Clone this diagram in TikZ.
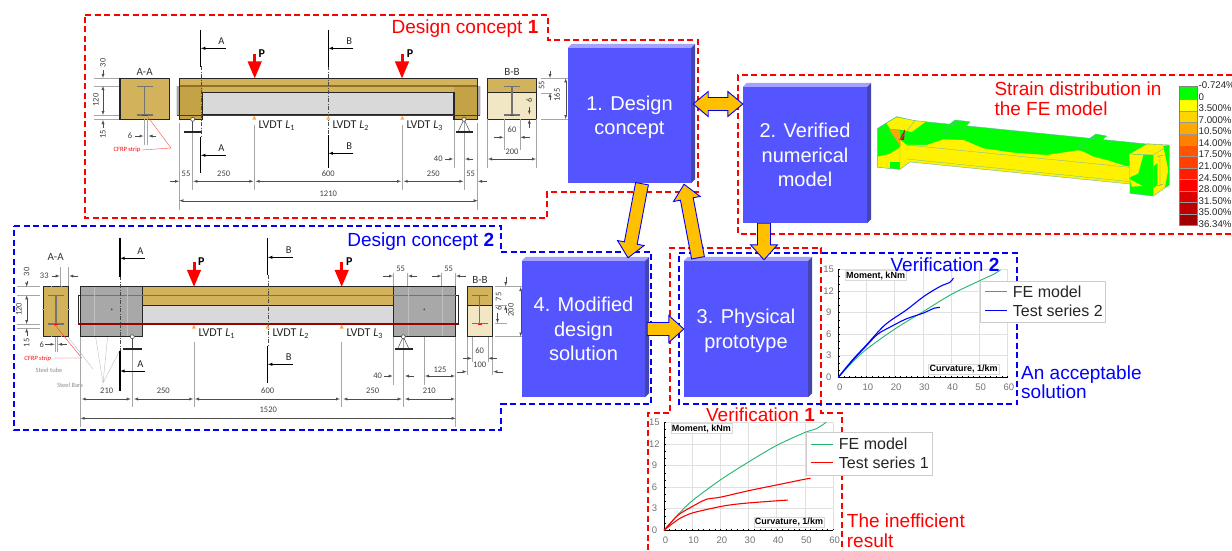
\documentclass[tikz,border=0pt]{standalone}
\usepackage{fontspec}
\setmainfont{Liberation Sans}
\newfontfamily\carl{Carlito}
\usetikzlibrary{arrows,calc}
\definecolor{beamgold}{HTML}{D2B25A}
\definecolor{beamband}{HTML}{8F7226}
\definecolor{beamend}{HTML}{C4A346}
\definecolor{beampale}{HTML}{F1E7C4}
\definecolor{beamgray}{HTML}{D9D9D9}
\definecolor{tubegray}{HTML}{A8A8A8}
\definecolor{blockface}{HTML}{5555FF}
\definecolor{blocktop}{HTML}{A3A3FF}
\definecolor{blockside}{HTML}{4545B0}
\definecolor{arrowgold}{HTML}{FFC000}
\definecolor{festgreen}{HTML}{00FF00}
\definecolor{chartgreen}{HTML}{1FB56B}
% block arrows between the boxes
\newcommand{\arrowdata}[2]{\path let \p1=($(#2)-(#1)$),\n1={atan2(\y1,\x1)},\n2={veclen(\x1,\y1)} in
  \pgfextra{\xdef\arrang{\n1}\xdef\arrlen{\n2}};}
\newcommand{\blockarrow}[2]{\arrowdata{#1}{#2}
  \draw[bigarrow,shift={(#1)},rotate=\arrang] (0pt,-6.5pt)--(\arrlen-15pt,-6.5pt)--(\arrlen-15pt,-13.5pt)--(\arrlen,0pt)
    --(\arrlen-15pt,13.5pt)--(\arrlen-15pt,6.5pt)--(0pt,6.5pt)--cycle;}
\newcommand{\bothwayarrow}[2]{\arrowdata{#1}{#2}
  \draw[bigarrow,shift={(#1)},rotate=\arrang] (0pt,0pt)--(15pt,-12.5pt)--(15pt,-6.5pt)--(\arrlen-15pt,-6.5pt)--(\arrlen-15pt,-12.5pt)
    --(\arrlen,0pt)--(\arrlen-15pt,12.5pt)--(\arrlen-15pt,6.5pt)--(15pt,6.5pt)--(15pt,12.5pt)--cycle;}
% steel I section: centre x, half flange, top y, bottom y
\newcommand{\isection}[4]{
  \draw[steel] (#1,#3)--(#1,#4);
  \draw[steel] (#1-#2,#3)--(#1+#2,#3);
  \draw[steel] (#1-#2,#4)--(#1+#2,#4);}
\begin{document}
\begin{tikzpicture}[x=1pt,y=-1pt]
  \tikzstyle{reddash} = [draw=red, line width=1.5pt, dash pattern=on 6pt off 3.5pt]
  \tikzstyle{bluedash} = [draw=blue, line width=1.5pt, dash pattern=on 6pt off 3.5pt]
  \tikzstyle{block} = [rectangle, fill=blockface, text=white, inner sep=0pt, align=center,
    font=\fontsize{20}{24.5}\selectfont]
  \tikzstyle{bigarrow} = [draw=blue, fill=arrowgold, line width=0.9pt, line join=miter]
  \tikzstyle{bigred} = [text=red, inner sep=0pt, align=left, font=\fontsize{19}{19.4}\selectfont]
  \tikzstyle{bigblue} = [text=blue, inner sep=0pt, align=left, font=\fontsize{19}{19.4}\selectfont]
  \tikzstyle{outline} = [draw=black!85, line width=1.1pt]
  \tikzstyle{steel} = [draw=black!55, line width=1.2pt]
  \tikzstyle{cut} = [draw=black, line width=1.5pt]
  \tikzstyle{cutarrow} = [draw=black, line width=0.5pt, -latex]
  \tikzstyle{centre} = [draw=black!70, line width=0.4pt, dash pattern=on 4pt off 1.5pt on 1pt off 1.5pt]
  \tikzstyle{ext} = [draw=black!35, line width=0.6pt]
  \tikzstyle{dimline} = [draw=black!70, line width=0.4pt, arrows={-latex}, >=latex]
  \tikzstyle{twoway} = [draw=black!70, line width=0.4pt, latex-latex]
  \tikzstyle{dimlab} = [inner sep=0pt, text=black!75, font=\carl\fontsize{8.5}{9}\selectfont]
  \tikzstyle{dimrot} = [dimlab, rotate=90]
  \tikzstyle{cutlab} = [inner sep=0pt, text=black!85, font=\carl\fontsize{10.5}{11}\selectfont]
  \tikzstyle{seclab} = [inner sep=0pt, text=black!80, font=\carl\fontsize{11}{11}\selectfont]
  \tikzstyle{loadlab} = [inner sep=0pt, font=\carl\bfseries\fontsize{12}{12}\selectfont]
  \tikzstyle{lvdt} = [inner sep=0pt, anchor=center, text=black!85, font=\carl\fontsize{12}{12}\selectfont]
  \tikzstyle{load} = [draw=red, line width=3pt, -triangle 45]
  \tikzstyle{sensor} = [fill=orange!70!white, draw=none]
  \tikzstyle{pin} = [circle, draw=black!70, fill=white, line width=0.6pt, inner sep=0pt, minimum size=4pt]
  \tikzstyle{plate} = [draw=black!85, line width=1.4pt]
  \tikzstyle{note} = [inner sep=0pt, text=red, font=\carl\fontsize{6.5}{7}\selectfont]
  \tikzstyle{greynote} = [inner sep=0pt, text=black!45, font=\carl\fontsize{6.5}{7}\selectfont]
  \tikzstyle{charttick} = [inner sep=0pt, text=black!55, font=\fontsize{9.5}{10}\selectfont]
  \tikzstyle{chartname} = [draw=black!15, fill=white, inner sep=1pt, font=\bfseries\fontsize{9}{9.5}\selectfont]
  \tikzstyle{legendbox} = [draw=black!20, fill=white, line width=0.8pt, inner sep=0pt]
  \tikzstyle{legendtext} = [inner sep=0pt, anchor=west, text=black!85, font=\fontsize{16}{17}\selectfont]
  \useasboundingbox (0,0) rectangle (1232,550);

  % dashed frames
  \draw[reddash] (85,15)--(548,15)--(548,40)--(698,40)--(698,192)--(547,192)--(547,218)--(85,218)--cycle;
  \draw[bluedash] (14,226)--(501,226)--(501,252)--(651,252)--(651,404)--(501,404)--(501,430)--(14,430)--cycle;
  \draw[reddash] (1232,75)--(738,75)--(738,234)--(1232,234);
  \draw[reddash] (648,550)--(648,413)--(670,413)--(670,248)--(821,248)--(821,413)--(842,413)--(842,550);
  \draw[bluedash] (679,253)--(1017,253)--(1017,404)--(679,404)--cycle;

  % concept 1, section A-A
  \node (secA1) [seclab] at (144.7,72) {A-A};
  \draw[outline,fill=beamgold] (120,78.3) rectangle (169.3,119.3);
  \isection{144.7}{7.8}{86.7}{115}
  \draw[red,line width=1pt] (142,115.3)--(148,115.3);
  \draw[ext] (94,78.3)--(119,78.3) (94,86)--(119,86) (94,115)--(119,115) (94,119.3)--(119,119.3);
  \draw[ext] (144.5,119)--(144.5,145) (147.5,119)--(147.5,145);
  \draw[dimline] (103,70)--(103,78);
  \draw[twoway] (103,86)--(103,115);
  \draw[dimline] (103,128)--(103,120);
  \draw[dimline] (135,136)--(143.5,136);
  \draw[dimline] (156,136)--(148.5,136);
  \draw[red!70,line width=0.4pt] (142,150)--(171,148)--(148,117);
  \node (strip1) [note] at (127,150) {CFRP strip};
  \foreach \x/\y/\t [count=\i] in {103/62.7/30,96/100/120,103/134/15}
    \node (secAd\i) [dimrot] at (\x,\y) {\t};
  \node (secAw) [dimlab] at (130,136) {6};

  % concept 1, beam
  \draw[ext] (179.3,123)--(179.3,210) (477.7,123)--(477.7,210) (192.7,119)--(192.7,190) (464,119)--(464,190)
    (254.3,125)--(254.3,190) (402.3,125)--(402.3,190) (454,119)--(454,168);
  \fill[tubegray] (176.7,86)--(179.3,86)--(179.3,115)--(176.7,115)--cycle (477.7,86)--(480.3,86)--(480.3,115)--(477.7,115)--cycle;
  \fill[beamgold] (179.3,78.3) rectangle (477.7,92.3);
  \fill[beamend] (179.3,85) rectangle (202.7,119.3) (454,85) rectangle (477.7,119.3);
  \fill[beamgray] (202.7,92.3) rectangle (454,114);
  \fill[beamband] (179.3,85.2) rectangle (477.7,87);
  \draw[outline] (179.3,78.3)--(477.7,78.3)--(477.7,119.3)--(454,119.3)--(454,92.3)--(202.7,92.3)--(202.7,119.3)--(179.3,119.3)--cycle;
  \draw[outline] (202.7,114.5)--(454,114.5);
  \draw[red!80!black,line width=1pt] (176.7,115.8)--(480.3,115.8);
  \draw[centre] (200.7,66)--(200.7,137) (328.3,66)--(328.3,135);
  \draw[cut] (200.7,30)--(200.7,66.7) (200.7,136.7)--(200.7,173.3);
  \draw[cut] (328.3,30)--(328.3,66.7) (328.3,135)--(328.3,168.3);
  \draw[cutarrow] (225.7,48.3)--(201,48.3);
  \draw[cutarrow] (225.7,155.3)--(201,155.3);
  \draw[cutarrow] (353.3,48.3)--(328.6,48.3);
  \draw[cutarrow] (353.3,153.3)--(328.6,153.3);
  \foreach \x/\y/\t [count=\i] in {221.3/41.3/A,221.3/148/A,349.3/41.3/B,349.3/146/B}
    \node (cutA\i) [cutlab] at (\x,\y) {\t};
  \draw[load] (254.7,54)--(254.7,78.3);
  \draw[load] (402,54)--(402,78.3);
  \node (loadA1) [loadlab] at (261.7,53.3) {P};
  \node (loadA2) [loadlab] at (410,53.3) {P};
  \foreach \x [count=\i] in {254.3,328.3,402.3}
    \fill[sensor] (\x-2,119.5)--(\x+2,119.5)--(\x,115.8)--cycle;
  \foreach \x/\t [count=\i] in {276.7/1,350.7/2,424.7/3}
    \node (lvdtA\i) [lvdt] at (\x,125.3) {LVDT \textit{L}\textsubscript{\t}};
  % supports
  \draw[black!70,line width=0.5pt] (192.7,119.3)--(192.7,132);
  \draw[plate] (184,132)--(200.7,132);
  \draw[black!70,line width=0.5pt] (458,132)--(464,119.3)--(470,132);
  \draw[plate] (455.7,132)--(472.7,132);
  \node (pinA1) [pin] at (192.7,119.3) {};
  \node (pinA2) [pin] at (464,119.3) {};
  % chains of dimensions
  \draw[dimline] (170,181.3)--(179,181.3);
  \draw[twoway] (193.3,181.3)--(253.3,181.3);
  \draw[twoway] (255.7,181.3)--(401,181.3);
  \draw[twoway] (403.7,181.3)--(463.3,181.3);
  \draw[dimline] (487,181.3)--(478,181.3);
  \draw[twoway] (179.3,200.7)--(477.7,200.7);
  \draw[dimline] (445,159)--(453.3,159);
  \draw[dimline] (473,159)--(465,159);
  \foreach \x/\y/\t [count=\i] in {186/173.3/55,223.7/174/250,328.3/174/600,433.3/174/250,470.7/173.3/55,328.3/193.3/1210,438.3/159/40,512/130/60,512/151.7/200}
    \node (dimA\i) [dimlab] at (\x,\y) {\t};

  % concept 1, section B-B
  \node (secB1) [seclab] at (512,72) {B-B};
  \draw[outline,fill=beampale] (487.3,78.3) rectangle (536.7,119.3);
  \draw[outline,fill=beamgold] (487.3,78.3) rectangle (536.7,92.3);
  \isection{512}{7.8}{86.7}{115}
  \draw[red,line width=1pt] (510,115.3)--(514,115.3);
  \draw[ext] (540.5,78.3)--(568,78.3) (540.5,93)--(552,93) (540.5,119.3)--(568,119.3)
    (504.3,119.3)--(504.3,150) (520,119.3)--(520,150) (487.3,119.3)--(487.3,168) (536.7,119.3)--(536.7,168);
  \draw[dimline] (550,71)--(550,78);
  \draw[dimline] (550,100)--(550,93);
  \draw[twoway] (565.7,78.3)--(565.7,119);
  \draw[dimline] (529.3,107)--(529.3,114.5);
  \draw[dimline] (529.3,128)--(529.3,119.5);
  \draw[dimline] (494.3,137.3)--(503.5,137.3);
  \draw[dimline] (530,137.3)--(520.5,137.3);
  \draw[twoway] (488,159)--(536,159);
  \node (secBd1) [dimrot] at (541.7,85) {55};
  \node (secBd2) [dimrot] at (557,95) {165};
  \node (secBd3) [dimrot] at (529.3,100) {6};

  % concept 2, section A-A
  \node (secA2) [seclab] at (55.7,256.7) {A-A};
  \draw[outline,fill=beamgold] (43.3,286.7) rectangle (68.7,336.7);
  \draw[black!30,line width=0.5pt] (51,286)--(51,337) (61,286)--(61,337) (42,309)--(70,309);
  \isection{56}{7.8}{295.3}{324}
  \draw[red,line width=1pt] (54,324.5)--(58,324.5);
  \draw[ext] (17,286.7)--(40,286.7) (17,295.3)--(40,295.3) (17,324)--(40,324) (17,328.3)--(40,328.3)
    (60,286)--(60,266.7) (68.7,286)--(68.7,266.7) (55,337)--(55,352) (57.5,337)--(57.5,352);
  \draw[dimline] (26.7,281)--(26.7,286.7);
  \draw[twoway] (26.7,295.3)--(26.7,324);
  \draw[dimline] (26.7,336)--(26.7,328.3);
  \draw[dimline] (51.7,276)--(59.7,276);
  \draw[dimline] (78.3,276)--(69.3,276);
  \draw[dimline] (45,344.3)--(54.5,344.3);
  \draw[dimline] (66.7,344.3)--(58,344.3);
  \draw[red!80,line width=0.4pt] (55,325)--(81.7,358)--(54,358);
  \draw[black!25,line width=0.4pt] (68,337)--(93,369) (95,333)--(103,383)--(108,333) (120,350)--(103,383);
  \node (strip2) [note] at (37.7,358.3) {\textit{CFRP strip}};
  \node (noteTube) [greynote] at (49,370.7) {Steel tube};
  \node (noteBars) [greynote] at (70,385) {Steel Bars};
  \foreach \x/\y/\t [count=\i] in {26.7/271.7/30,19/309.3/120,26.7/342.7/15}
    \node (secCd\i) [dimrot] at (\x,\y) {\t};
  \node (secCw1) [dimlab] at (44.3,276) {33};
  \node (secCw2) [dimlab] at (41.7,344.3) {6};

  % concept 2, beam
  \draw[ext] (80.7,337)--(80.7,426.7) (455.7,273)--(455.7,426.7) (132.3,337)--(132.3,406.7) (403.3,337)--(403.3,406.7)
    (194,341.7)--(194,406.7) (341.7,341.7)--(341.7,406.7) (393.3,273)--(393.3,385) (424.3,309.3)--(424.3,385) (407.7,273)--(407.7,287) (441.7,273)--(441.7,287);
  \fill[beamgold] (142.7,286.7) rectangle (393.3,305.7);
  \fill[beamgray] (142.7,305.7) rectangle (393.3,323.3);
  \fill[beamband] (142.7,294.5) rectangle (393.3,296.2);
  \draw[outline,fill=white] (78.3,295.3) rectangle (84,324);
  \draw[outline,fill=white] (452,295.3) rectangle (458.3,324);
  \draw[outline,fill=tubegray] (80.7,286.7) rectangle (142.7,336.7);
  \draw[outline,fill=tubegray] (393.3,286.7) rectangle (455.7,336.7);
  \draw[black!55,line width=1.2pt] (80.7,295.3)--(142.7,295.3) (393.3,295.3)--(455.7,295.3);
  \draw[black!25,line width=0.5pt] (94,287)--(94,336) (127,287)--(127,336) (408,287)--(408,336) (442,287)--(442,336);
  \draw[outline] (142.7,286.7)--(393.3,286.7) (142.7,305.7)--(393.3,305.7);
  \draw[red!60!black,line width=1.2pt] (78.3,324)--(458.3,324);
  \fill[black!70] (111.7,309.3) circle (1pt) (424.3,309.3) circle (1pt);
  \draw[centre] (120,276)--(120,351) (267.7,275)--(267.7,346);
  \draw[cut] (120,238.3)--(120,276.7) (120,351)--(120,390.7);
  \draw[cut] (267.7,238.3)--(267.7,275) (267.7,346)--(267.7,383.3);
  \draw[cutarrow] (145,258.3)--(120.3,258.3);
  \draw[cutarrow] (145,371)--(120.3,371);
  \draw[cutarrow] (293.3,257.3)--(268,257.3);
  \draw[cutarrow] (293.3,364.3)--(268,364.3);
  \foreach \x/\y/\t [count=\i] in {140.3/250.7/A,140.3/363.7/A,288.7/249.7/B,288.7/357.3/B}
    \node (cutC\i) [cutlab] at (\x,\y) {\t};
  \draw[load] (194,262.3)--(194,286.7);
  \draw[load] (341.7,262.3)--(341.7,286.7);
  \node (loadC1) [loadlab] at (201.3,261.7) {P};
  \node (loadC2) [loadlab] at (349.3,261.7) {P};
  \foreach \x [count=\i] in {194,267.7,341.7}
    \fill[sensor] (\x-2,328.5)--(\x+2,328.5)--(\x,324.5)--cycle;
  \foreach \x/\t [count=\i] in {216.7/1,290.7/2,364.7/3}
    \node (lvdtC\i) [lvdt] at (\x,334) {LVDT \textit{L}\textsubscript{\t}};
  % supports
  \draw[black!70,line width=0.5pt] (132.3,336.7)--(132.3,349);
  \draw[plate] (123.3,349)--(141.7,349);
  \draw[black!70,line width=0.5pt] (397.5,349)--(403.3,336.7)--(409,349);
  \draw[plate] (395,349)--(412.7,349);
  \node (pinC1) [pin] at (132.3,336.7) {};
  \node (pinC2) [pin] at (403.3,336.7) {};
  % chains of dimensions
  \draw[twoway] (81.7,399)--(130.7,399);
  \draw[twoway] (134,399)--(193.3,399);
  \draw[twoway] (195,399)--(340,399);
  \draw[twoway] (343.3,399)--(401.7,399);
  \draw[twoway] (405,399)--(455,399);
  \draw[twoway] (80.7,418.3)--(455.7,418.3);
  \draw[dimline] (384,376)--(392.7,376);
  \draw[dimline] (414,376)--(405,376);
  \draw[twoway] (425,376)--(455,376);
  \draw[dimline] (383.3,276)--(393,276);
  \draw[dimline] (417.3,276)--(408,276);
  \draw[dimline] (431.7,276)--(441.5,276);
  \draw[dimline] (465.7,276)--(456,276);
  \foreach \x/\y/\t [count=\i] in {106.7/391/210,163.3/391/250,267.7/391/600,372.7/391/250,429.3/391/210,268.3/410/1520,377.7/376/40,440/370/125,400.7/269/55,448.7/269/55,479.7/351/60,479.7/364.3/100}
    \node (dimC\i) [dimlab] at (\x,\y) {\t};

  % concept 2, section B-B
  \node (secB2) [seclab] at (480,280) {B-B};
  \draw[outline,fill=beampale] (467.3,286.7) rectangle (492.7,336.7);
  \draw[outline,fill=beamgold] (467.3,286.7) rectangle (492.7,305.7);
  \isection{479.7}{7.8}{295.3}{323.5}
  \draw[red,line width=1pt] (478,324)--(482,324);
  \draw[ext] (495,286.7)--(523,286.7) (495,336.7)--(523,336.7) (495,323.5)--(507,323.5) (495,305)--(507,305)
    (472,337)--(472,362) (488,337)--(488,362) (467.3,337)--(467.3,375) (492.7,337)--(492.7,375);
  \draw[dimline] (505.7,276.7)--(505.7,286);
  \draw[dimline] (505.7,313)--(505.7,305.5);
  \draw[dimline] (497.5,313)--(497.5,323);
  \draw[twoway] (520.7,287)--(520.7,336.5);
  \draw[dimline] (463.3,358.3)--(471.7,358.3);
  \draw[dimline] (496.7,358.3)--(488.3,358.3);
  \draw[dimline] (456.7,371.7)--(466.7,371.7);
  \draw[dimline] (502.7,371.7)--(493.3,371.7);
  \foreach \x/\y/\t [count=\i] in {498.7/296.7/75,498.7/308/6,511/310/200}
    \node (secDd\i) [dimrot] at (\x,\y) {\t};

  % the four blocks
  \node (b1) [block, minimum width=123pt, minimum height=135pt] at (629.5,115.5) {\rule{0pt}{18.5pt}1. Design\\concept};
  \node (b2) [block, minimum width=124pt, minimum height=136pt] at (805,155) {2. Verified\\numerical\\model};
  \node (b3) [block, minimum width=124pt, minimum height=136pt] at (746,329) {\rule{0pt}{18.5pt}3. Physical\\prototype};
  \node (b4) [block, minimum width=123pt, minimum height=136pt] at (583.5,329) {4. Modified\\design\\solution};
  \foreach \b in {b1,b2,b3,b4} {
    \fill[blocktop] (\b.north west)--++(4,-4)--($(\b.north east)+(4,-4)$)--(\b.north east)--cycle;
    \fill[blockside] (\b.north east)--++(4,-4)--($(\b.south east)+(4,-4)$)--(\b.south east)--cycle;
  }
  % arrows between the blocks
  \coordinate (s14) at ($(b1.south)+(12.5,0.5)$);
  \coordinate (t14) at ($(b4.north)+(44.5,-3)$);
  \coordinate (s31) at ($(b3.north)+(-48,-3)$);
  \coordinate (t31) at ($(b1.south)+(54.5,1)$);
  \coordinate (s23) at ($(b2.south)+(-41,0)$);
  \coordinate (t23) at ($(b3.north)+(18,-1)$);
  \coordinate (s43) at ($(b4.east)+(2,0)$);
  \coordinate (s12) at ($(b1.east)+(2,-11.5)$);
  \coordinate (t12) at ($(b2.west)+(0,-51)$);
  \blockarrow{s14}{t14}
  \blockarrow{s31}{t31}
  \blockarrow{s23}{t23}
  \blockarrow{s43}{b3.west}
  \bothwayarrow{s12}{t12}

  % FE model, drawn from its picture
  \begin{scope}[shift={(730,60)},x=0.3333pt,y=-0.3333pt]
    \fill[festgreen] (443,205)--(500,170)--(555,182)--(1250,252)--(1200,285)--(1200,320)--(530,255)--(510,240)--(510,328)--(443,322)--cycle;
    \fill[yellow] (510,240)--(530,255)--(590,255)--(640,238)--(700,240)--(760,265)--(850,278)--(950,285)--(1050,270)--(1090,290)--(1130,300)--(1200,322)--(1200,372)--(540,306)--(510,328)--cycle;
    \fill[yellow] (443,290)--(478,282)--(510,262)--(510,306)--(480,306)--(480,326)--(443,322)--cycle;
    \fill[yellow] (470,190)--(500,172)--(555,182)--(590,183)--(545,216)--(520,210)--(480,206)--cycle;
    \fill[orange!70!yellow] (478,207)--(510,212)--(512,258)--(495,235)--cycle;
    \fill[red!85!black] (508,240)--(525,208)--(522,240)--cycle;
    \fill[festgreen] (630,215)--(675,180)--(720,185)--(690,222)--(650,232)--(630,225)--cycle;
    \fill[festgreen] (1045,258)--(1098,222)--(1130,228)--(1085,270)--(1045,272)--cycle;
    \fill[yellow] (1198,282)--(1255,250)--(1318,255)--(1270,285)--cycle;
    \fill[festgreen] (1198,282)--(1270,285)--(1270,408)--(1200,400)--cycle;
    \fill[yellow] (1198,282)--(1240,285)--(1225,340)--(1200,352)--cycle;
    \fill[yellow] (1200,358)--(1238,378)--(1205,380)--cycle;
    \fill[yellow] (1270,285)--(1318,255)--(1318,375)--(1270,408)--cycle;
    \fill[festgreen] (1300,258)--(1318,255)--(1318,375)--(1305,382)--(1315,330)--cycle;
    \fill[festgreen] (1270,320)--(1282,310)--(1282,375)--(1270,385)--cycle;
    \draw[black!45,line width=0.4pt] (1290,290)--(1290,378) (1282,290)--(1300,285) (1282,378)--(1300,372);
    \draw[teal!60,line width=0.4pt] (443,205)--(500,170)--(555,182)--(1250,252)--(1318,255)--(1318,375)--(1270,408)--(1200,400)--(1200,372)--(540,306)--(510,328)--(443,322)--cycle;
    \draw[teal!60,line width=0.3pt] (510,240)--(555,182) (443,205)--(510,240)--(510,328) (530,255)--(1200,322) (530,297)--(1200,365)
      (1198,282)--(1255,250) (1198,282)--(1270,285)--(1270,408) (1270,285)--(1318,255)
      (630,215)--(675,180)--(720,185)--(690,222)--(630,215) (1045,258)--(1098,222)--(1130,228)--(1085,270)--cycle;
  \end{scope}
  % colour scale
  \fill[festgreen] (1179.3,86.7) rectangle (1197.7,99.3);
  \foreach \r/\g/\bl [count=\i from 0] in {255/255/0,255/213/0,255/170/0,255/128/0,255/85/0,255/64/0,255/30/0,255/0/0,220/0/0,190/0/0,160/0/0}
    \fill[fill={rgb,255:red,\r;green,\g;blue,\bl}] (1179.3,99.3+11.45*\i) rectangle (1197.7,110.75+11.45*\i);
  \foreach \i in {0,...,10}
    \draw[black!40,line width=0.3pt] (1179.3,99.3+11.45*\i)--(1197.7,99.3+11.45*\i);
  \draw[black!50,line width=0.6pt] (1179.3,86.7) rectangle (1197.7,225.2);
  \foreach \t [count=\i from 0] in {-0.724\%,0,3.500\%,7.000\%,10.50\%,14.00\%,17.50\%,21.00\%,24.50\%,28.00\%,31.50\%,35.00\%,36.34\%}
    \node (scale\i) [inner sep=0pt, anchor=west, text=black!85, font=\fontsize{9.7}{10}\selectfont] at (1198.5,85.3+11.55*\i) {\t};

  % the two charts
  \foreach \ox/\oy/\cn in {838.3/377.3/ver,664/530.3/ine} {
    \begin{scope}[shift={(\ox,\oy)},x=2.82pt,y=7.2pt]
      \foreach \v in {10,20,...,60} \draw[black!12,line width=0.7pt] (\v,0)--(\v,15);
      \foreach \v in {3,6,...,15} \draw[black!12,line width=0.7pt] (0,\v)--(60,\v);
      \foreach \v in {0,2,...,60} \draw[black,line width=0.4pt] (\v,0)--++(0,0.22);
      \foreach \v in {0,1,...,15} \draw[black,line width=0.4pt] (0,\v)--++(0.7,0);
      \draw[black,line width=0.9pt] (0,15)--(0,0)--(60,0);
      \foreach \v in {0,10,...,60} \node (\cn x\v) [charttick] at (\v+0.5,-1.42) {\v};
      \foreach \v in {0,3,...,15} \node (\cn y\v) [charttick] at (-3.4,\v) {\v};
    \end{scope}
  }
  \begin{scope}[shift={(838.3,377.3)},x=2.82pt,y=7.2pt]
    \draw[chartgreen,line width=0.9pt] plot[smooth] coordinates {(0,0) (5,2.1) (10,3.9) (20,6.7) (30,9.1) (40,11.5) (50,13.4) (55,14.3) (57.5,14.9)};
    \draw[blue,line width=1.1pt] plot[smooth] coordinates {(0,0) (5,2.4) (10,4.5) (16.6,7.3) (24.3,9.4) (30.2,11.2) (36,12.6) (39.6,13.2) (40.8,13.8)};
    \draw[blue,line width=1.1pt] plot[smooth] coordinates {(0,0) (5,2.3) (10,4.4) (14,6) (18,6.9) (24,8.1) (30,8.9) (34,9.6) (36,9.7)};
  \end{scope}
  \begin{scope}[shift={(664,530.3)},x=2.82pt,y=7.2pt]
    \draw[chartgreen,line width=0.9pt] plot[smooth] coordinates {(0,0) (5,2.2) (10,4.1) (20,7) (30,9.5) (40,11.8) (50,13.6) (54,14.1) (57.5,15)};
    \draw[red,line width=1.1pt] plot[smooth] coordinates {(0,0) (5,2.1) (10,3.3) (15,4.3) (20,4.6) (30,5.5) (40,6.3) (50,7.1) (52,7.2)};
    \draw[red,line width=1.1pt] plot[smooth] coordinates {(0,0) (5,1.5) (10,2.4) (20,3.3) (25,3.6) (30,3.8) (40,4.1) (44,4.2)};
  \end{scope}
  \node (momVer) [chartname] at (875.5,275.5) {Moment, kNm};
  \node (curVer) [chartname] at (963.7,369) {Curvature, 1/km};
  \node (momIne) [chartname] at (701.3,428.5) {Moment, kNm};
  \node (curIne) [chartname] at (789,522) {Curvature, 1/km};
  % legends
  \node (legVer) [legendbox, minimum width=124.3pt, minimum height=41.3pt] at (1042.8,301.7) {};
  \node (legIne) [legendbox, minimum width=125.6pt, minimum height=42.7pt] at (869.5,453.7) {};
  \node (legVer1) [legendtext] at (1012.7,291.7) {FE model};
  \node (legVer2) [legendtext] at (1012.7,310.7) {Test series 2};
  \node (legIne1) [legendtext] at (838.7,444) {FE model};
  \node (legIne2) [legendtext] at (838.7,462.7) {Test series 1};
  \draw[chartgreen,line width=1pt] (985,291.7)--(1006.7,291.7);
  \draw[blue,line width=1pt] (985,310.7)--(1006.7,310.7);
  \draw[chartgreen,line width=1pt] (811,444)--(832.7,444);
  \draw[red,line width=1pt] (811,462.7)--(832.7,462.7);

  % captions
  \node (capA) [bigred] at (465,29) {Design concept \textbf{1}};
  \node (capC) [bigblue] at (420.7,241.7) {Design concept \textbf{2}};
  \node (capS) [bigred, anchor=west] at (994.3,98.8) {Strain distribution in\\the FE model};
  \node (capV2) [bigblue] at (945,264.3) {Verification \textbf{2}};
  \node (capV1) [bigred] at (760.5,415) {Verification \textbf{1}};
  \node (capOk) [bigblue, anchor=west] at (1021,382) {An acceptable\\solution};
  \node (capBad) [bigred, anchor=west] at (846.7,530.5) {The inefficient\\result};
\end{tikzpicture}
\end{document}
